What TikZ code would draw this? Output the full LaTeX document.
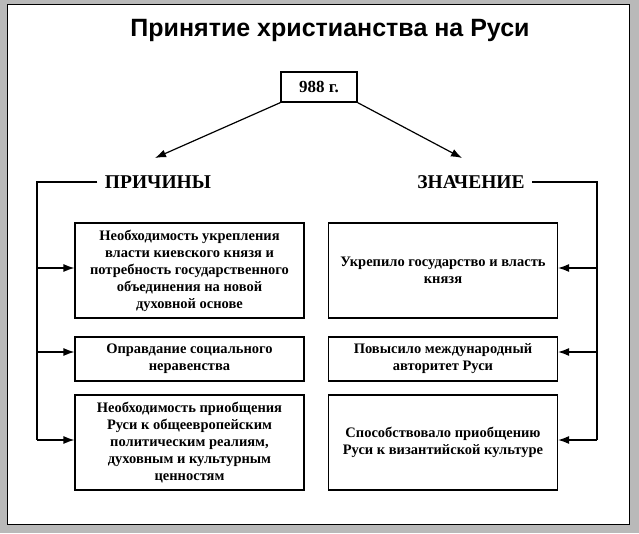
\documentclass[tikz,border=0pt]{standalone}
\usepackage{fontspec}
\setmainfont{Liberation Serif}
\newfontfamily\titlefont{Liberation Sans}
\usetikzlibrary{arrows.meta}
\begin{document}
\begin{tikzpicture}[x=1pt,y=-1pt,
  box/.style={draw,line width=1.2pt,minimum width=229pt,align=center,font=\bfseries\fontsize{14.5}{17}\selectfont,inner sep=2pt},
  head/.style={font=\bfseries\fontsize{19.5}{22}\selectfont},
  arr/.style={-{Latex[length=11pt,width=8pt]},line width=1.2pt},
  ln/.style={line width=1.2pt}]
\fill[gray!55] (0,0) rectangle (639,533);
\fill[white] (7,4) rectangle (629,524);
\draw[line width=0.6pt] (7,4) rectangle (629,524);
\useasboundingbox (0,0) rectangle (639,533);
\node[font=\titlefont\bfseries\fontsize{25}{28}\selectfont] (title) at (330,30) {Принятие христианства на Руси};
\node[draw,line width=1.2pt,minimum width=76pt,minimum height=30pt,font=\bfseries\fontsize{17}{20}\selectfont] (year) at (319,87) {988 г.};
\node[head] (pr) at (158,182) {ПРИЧИНЫ};
\node[head] (zn) at (471,182) {ЗНАЧЕНИЕ};
\coordinate (pa) at (155,158);
\coordinate (za) at (462,158);
\draw[arr] (year.south west) -- (pa);
\draw[arr] (year.south east) -- (za);
\node[box,minimum height=95pt] (l1) at (189.5,270.5) {Необходимость укрепления\\власти киевского князя и\\потребность государственного\\объединения на новой\\духовной основе};
\node[box,minimum height=44pt] (l2) at (189.5,359) {Оправдание социального\\неравенства};
\node[box,minimum height=95pt] (l3) at (189.5,442.5) {Необходимость приобщения\\Руси к общеевропейским\\политическим реалиям,\\духовным и культурным\\ценностям};
\node[box,minimum height=95pt] (r1) at (443,270.5) {Укрепило государство и власть\\князя};
\node[box,minimum height=44pt] (r2) at (443,359) {Повысило международный\\авторитет Руси};
\node[box,minimum height=95pt] (r3) at (443,442.5) {Способствовало приобщению\\Руси к византийской культуре};
\coordinate (lt) at (37,182);
\coordinate (lb) at (37,440);
\coordinate (rt) at (597,182);
\coordinate (rb) at (597,440);
\draw[ln] (pr.west) ++(-4,0) -- (lt) -- (lb);
\draw[ln] (zn.east) ++(4,0) -- (rt) -- (rb);
\draw[arr] (37,268) -- (l1.west |- 0,268);
\draw[arr] (37,352) -- (l2.west |- 0,352);
\draw[arr] (lb) -- (l3.west |- lb);
\draw[arr] (597,268) -- (r1.east |- 0,268);
\draw[arr] (597,352) -- (r2.east |- 0,352);
\draw[arr] (rb) -- (r3.east |- rb);
\end{tikzpicture}
\end{document}
